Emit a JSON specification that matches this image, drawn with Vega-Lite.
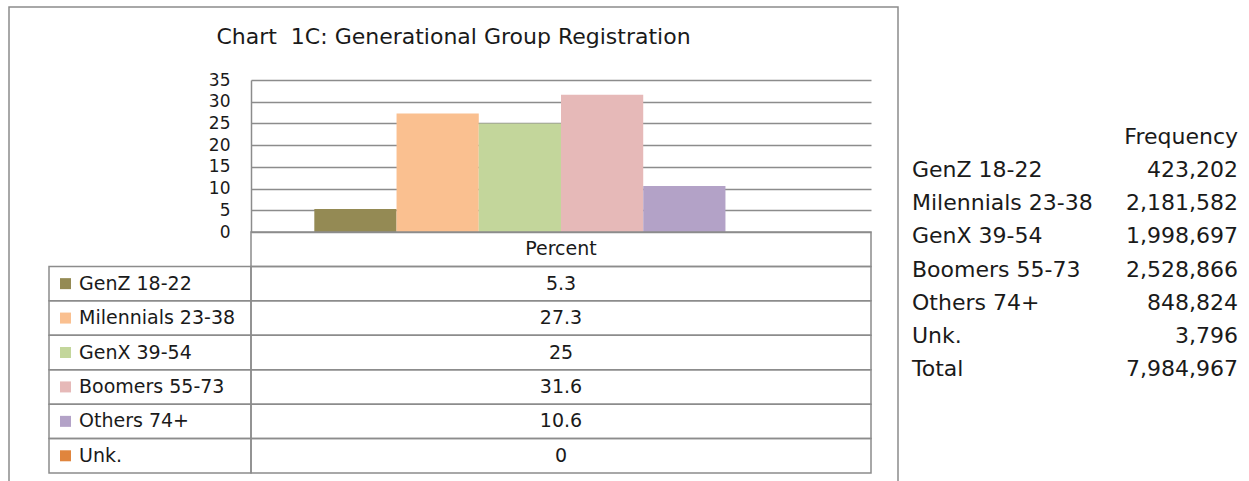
{
  "$schema": "https://vega.github.io/schema/vega-lite/v6.json",
  "padding": {"left": 8, "top": 6, "right": 0, "bottom": 0},
  "spacing": 13,
  "config": {"view": {"stroke": null}, "font": "DejaVu Sans"},
  "datasets": {
    "pct": [
      {"group": "GenZ 18-22", "pct": 5.3},
      {"group": "Milennials 23-38", "pct": 27.3},
      {"group": "GenX 39-54", "pct": 25},
      {"group": "Boomers 55-73", "pct": 31.6},
      {"group": "Others 74+", "pct": 10.6},
      {"group": "Unk.", "pct": 0}
    ],
    "freq": [
      {"group": "GenZ 18-22", "freq": 423202},
      {"group": "Milennials 23-38", "freq": 2181582},
      {"group": "GenX 39-54", "freq": 1998697},
      {"group": "Boomers 55-73", "freq": 2528866},
      {"group": "Others 74+", "freq": 848824},
      {"group": "Unk.", "freq": 3796},
      {"group": "Total", "freq": 7984967}
    ]
  },
  "hconcat": [
    {
      "width": 889,
      "height": 480,
      "view": {"stroke": "#8c8c8c", "strokeWidth": 1.5},
      "title": {
        "text": "Chart \u00a01C: Generational Group Registration",
        "anchor": "middle",
        "frame": "group",
        "offset": -59,
        "baseline": "alphabetic",
        "fontSize": 22,
        "fontWeight": "normal",
        "color": "#1a1a1a",
        "font": "DejaVu Sans"
      },
      "resolve": {"scale": {"x": "independent", "y": "independent", "color": "shared"}},
      "layer": [
        {
          "data": {"name": "pct"},
          "mark": {"type": "bar"},
          "encoding": {
            "x": {
              "field": "group", "type": "nominal", "sort": null,
              "scale": {
                "domain": ["GenZ 18-22", "Milennials 23-38", "GenX 39-54", "Boomers 55-73", "Others 74+", "Unk."],
                "range": [242, 862], "paddingInner": 0, "paddingOuter": 0.77
              },
              "axis": null
            },
            "y": {
              "field": "pct", "type": "quantitative",
              "scale": {"domain": [0, 35], "range": [225, 73], "nice": false},
              "axis": {
                "orient": "left", "offset": -242, "values": [0, 5, 10, 15, 20, 25, 30, 35],
                "grid": true, "gridColor": "#8c8c8c", "gridOpacity": 1, "gridWidth": 1.5,
                "domain": true, "domainColor": "#8c8c8c", "domainWidth": 1.5,
                "ticks": false, "labelPadding": 21, "labelFontSize": 17,
                "labelColor": "#1a1a1a", "labelFont": "DejaVu Sans", "title": null
              }
            },
            "color": {
              "field": "group", "type": "nominal",
              "scale": {
                "domain": ["GenZ 18-22", "Milennials 23-38", "GenX 39-54", "Boomers 55-73", "Others 74+", "Unk."],
                "range": ["#948a54", "#fac090", "#c3d69b", "#e6b9b8", "#b3a2c7", "#e0853d"]
              },
              "legend": null
            }
          }
        },
        {
          "data": {"name": "pct"},
          "mark": {"type": "rect", "fill": "white", "fillOpacity": 0, "stroke": "#8c8c8c", "strokeWidth": 1.5},
          "encoding": {
            "x": {"datum": "Percent", "type": "nominal", "scale": {"domain": ["Percent"], "range": [242, 862], "paddingInner": 0, "paddingOuter": 0}, "axis": null},
            "y": {"field": "group", "type": "nominal", "sort": null,
              "scale": {"domain": ["Percent", "GenZ 18-22", "Milennials 23-38", "GenX 39-54", "Boomers 55-73", "Others 74+", "Unk."], "range": [225, 466], "paddingInner": 0, "paddingOuter": 0},
              "axis": null}
          }
        },
        {
          "data": {"name": "pct"},
          "mark": {"type": "rect", "fill": "white", "fillOpacity": 0, "stroke": "#8c8c8c", "strokeWidth": 1.5},
          "encoding": {
            "x": {"datum": "label", "type": "nominal", "scale": {"domain": ["label"], "range": [40, 242], "paddingInner": 0, "paddingOuter": 0}, "axis": null},
            "y": {"field": "group", "type": "nominal", "sort": null,
              "scale": {"domain": ["Percent", "GenZ 18-22", "Milennials 23-38", "GenX 39-54", "Boomers 55-73", "Others 74+", "Unk."], "range": [225, 466], "paddingInner": 0, "paddingOuter": 0},
              "axis": null}
          }
        },
        {
          "data": {"values": [{}]},
          "mark": {"type": "rect", "fill": "white", "fillOpacity": 0, "stroke": "#8c8c8c", "strokeWidth": 1.5},
          "encoding": {
            "x": {"datum": "Percent", "type": "nominal", "scale": {"domain": ["Percent"], "range": [242, 862], "paddingInner": 0, "paddingOuter": 0}, "axis": null},
            "y": {"datum": "Percent", "type": "nominal",
              "scale": {"domain": ["Percent", "GenZ 18-22", "Milennials 23-38", "GenX 39-54", "Boomers 55-73", "Others 74+", "Unk."], "range": [225, 466], "paddingInner": 0, "paddingOuter": 0},
              "axis": null}
          }
        },
        {
          "data": {"values": [{}]},
          "mark": {"type": "text", "fontSize": 19, "color": "#1a1a1a", "baseline": "middle", "align": "center"},
          "encoding": {
            "x": {"datum": "Percent", "type": "nominal", "scale": {"domain": ["Percent"], "range": [242, 862], "paddingInner": 0, "paddingOuter": 0}, "axis": null},
            "y": {"datum": "Percent", "type": "nominal",
              "scale": {"domain": ["Percent", "GenZ 18-22", "Milennials 23-38", "GenX 39-54", "Boomers 55-73", "Others 74+", "Unk."], "range": [225, 466], "paddingInner": 0, "paddingOuter": 0},
              "axis": null},
            "text": {"value": "Percent"}
          }
        },
        {
          "data": {"name": "pct"},
          "mark": {"type": "text", "fontSize": 19, "color": "#1a1a1a", "baseline": "middle", "align": "center"},
          "encoding": {
            "x": {"datum": "Percent", "type": "nominal", "scale": {"domain": ["Percent"], "range": [242, 862], "paddingInner": 0, "paddingOuter": 0}, "axis": null},
            "y": {"field": "group", "type": "nominal", "sort": null,
              "scale": {"domain": ["Percent", "GenZ 18-22", "Milennials 23-38", "GenX 39-54", "Boomers 55-73", "Others 74+", "Unk."], "range": [225, 466], "paddingInner": 0, "paddingOuter": 0},
              "axis": null},
            "text": {"field": "pct", "type": "quantitative"}
          }
        },
        {
          "data": {"name": "pct"},
          "mark": {"type": "text", "fontSize": 19, "color": "#1a1a1a", "baseline": "middle", "align": "left"},
          "encoding": {
            "x": {"datum": "text", "type": "nominal", "scale": {"type": "point", "domain": ["swatch", "text"], "range": [56.5, 70], "padding": 0}, "axis": null},
            "y": {"field": "group", "type": "nominal", "sort": null,
              "scale": {"domain": ["Percent", "GenZ 18-22", "Milennials 23-38", "GenX 39-54", "Boomers 55-73", "Others 74+", "Unk."], "range": [225, 466], "paddingInner": 0, "paddingOuter": 0},
              "axis": null},
            "text": {"field": "group", "type": "nominal"}
          }
        },
        {
          "data": {"name": "pct"},
          "mark": {"type": "point", "shape": "square", "filled": true, "size": 121, "opacity": 1},
          "encoding": {
            "x": {"datum": "swatch", "type": "nominal", "scale": {"type": "point", "domain": ["swatch", "text"], "range": [56.5, 70], "padding": 0}, "axis": null},
            "y": {"field": "group", "type": "nominal", "sort": null,
              "scale": {"domain": ["Percent", "GenZ 18-22", "Milennials 23-38", "GenX 39-54", "Boomers 55-73", "Others 74+", "Unk."], "range": [225, 466], "paddingInner": 0, "paddingOuter": 0},
              "axis": null},
            "color": {"field": "group", "type": "nominal", "legend": null}
          }
        }
      ]
    },
    {
      "width": 326,
      "height": 480,
      "data": {"name": "freq"},
      "layer": [
        {
          "mark": {"type": "text", "fontSize": 22, "color": "#1a1a1a", "baseline": "middle", "align": "left"},
          "encoding": {
            "x": {"datum": "label", "type": "nominal", "scale": {"type": "point", "domain": ["label", "value"], "padding": 0}, "axis": null},
            "y": {"field": "group", "type": "nominal", "sort": null,
              "scale": {"domain": ["Frequency", "GenZ 18-22", "Milennials 23-38", "GenX 39-54", "Boomers 55-73", "Others 74+", "Unk.", "Total"], "range": [113.4, 378.6], "paddingInner": 0, "paddingOuter": 0},
              "axis": null},
            "text": {"field": "group", "type": "nominal"}
          }
        },
        {
          "mark": {"type": "text", "fontSize": 22, "color": "#1a1a1a", "baseline": "middle", "align": "right"},
          "encoding": {
            "x": {"datum": "value", "type": "nominal"},
            "y": {"field": "group", "type": "nominal", "sort": null},
            "text": {"field": "freq", "type": "quantitative", "format": ","}
          }
        },
        {
          "data": {"values": [{}]},
          "mark": {"type": "text", "fontSize": 22, "color": "#1a1a1a", "baseline": "middle", "align": "right"},
          "encoding": {
            "x": {"datum": "value", "type": "nominal"},
            "y": {"datum": "Frequency", "type": "nominal"},
            "text": {"value": "Frequency"}
          }
        }
      ]
    }
  ]
}
